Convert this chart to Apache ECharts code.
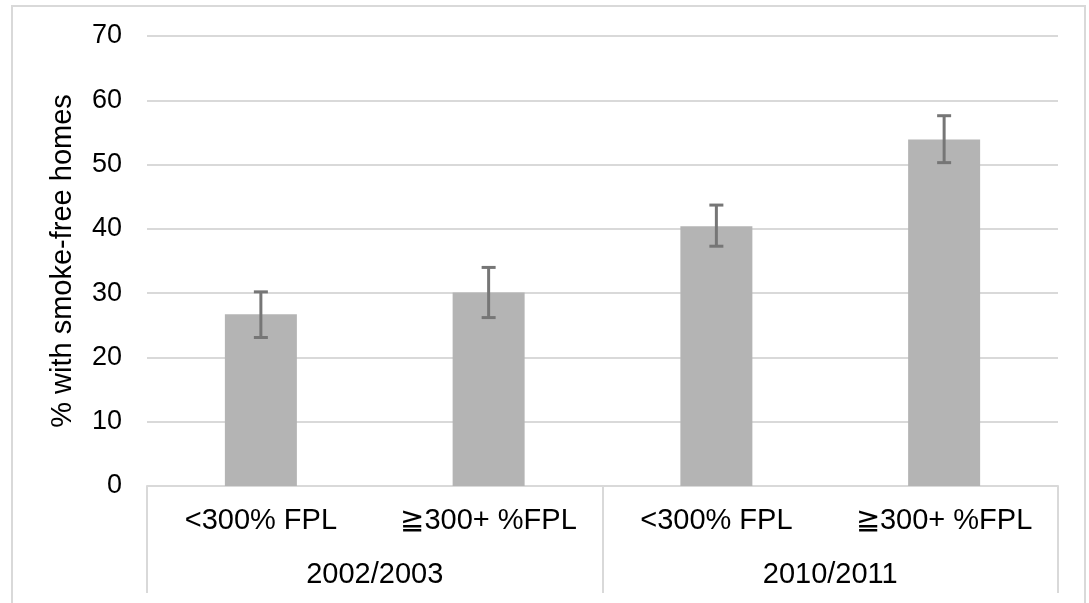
<!DOCTYPE html>
<html>
<head>
<meta charset="utf-8">
<script src="https://cdn.jsdelivr.net/npm/echarts@6/dist/echarts.min.js"></script>
<style>
html,body{margin:0;padding:0;background:#fff;}
#chart{width:1089px;height:603px;}
</style>
</head>
<body>
<div id="chart"></div>
<script>
const incomeLabels = ['<300% FPL', '\u2267300+ %FPL', '<300% FPL', '\u2267300+ %FPL'];
const yearLabels = ['2002/2003', '2010/2011'];
const values = [26.7, 30.1, 40.4, 53.9];
const errLow = [23.1, 26.2, 37.3, 50.3];
const errHigh = [30.2, 34.0, 43.7, 57.6];
const yTicks = [0, 10, 20, 30, 40, 50, 60, 70];

const chart = echarts.init(document.getElementById('chart'));
const font = 'Liberation Sans, Arial, sans-serif';
const fs = 29;
const errData = values.map((v, i) => [i, errLow[i], errHigh[i]]);

chart.setOption({
  animation: false,
  backgroundColor: '#fff',
  graphic: [{
    type: 'rect',
    shape: {x: 12, y: 6, width: 1073, height: 610},
    style: {fill: 'none', stroke: '#d9d9d9', lineWidth: 2},
    silent: true,
    z: -1
  }],
  grid: {left: 147, right: 31, top: 36, bottom: 117, containLabel: false},
  xAxis: [{
    type: 'category',
    data: incomeLabels,
    position: 'bottom',
    axisLine: {show: true, lineStyle: {color: '#d9d9d9', width: 2}},
    axisTick: {show: false},
    axisLabel: {color: '#000', fontSize: fs, fontFamily: font, margin: 20, interval: 0}
  }, {
    type: 'category',
    data: yearLabels,
    position: 'bottom',
    axisLine: {show: false},
    axisTick: {show: true, length: 107, lineStyle: {color: '#d9d9d9', width: 2}},
    axisLabel: {color: '#000', fontSize: fs, fontFamily: font, margin: 74, interval: 0}
  }],
  yAxis: {
    type: 'value',
    min: yTicks[0],
    max: yTicks[yTicks.length - 1],
    interval: 10,
    name: '% with smoke-free homes',
    nameLocation: 'middle',
    nameGap: 70,
    nameTextStyle: {color: '#000', fontSize: fs, fontFamily: font},
    axisLine: {show: false},
    axisTick: {show: false},
    axisLabel: {color: '#000', fontSize: 27, fontFamily: font, margin: 25},
    splitLine: {lineStyle: {color: '#d9d9d9', width: 2}}
  },
  series: [{
    type: 'bar',
    data: values,
    barWidth: 72,
    itemStyle: {color: '#b4b4b4'},
    xAxisIndex: 0,
    z: 2
  }, {
    type: 'custom',
    xAxisIndex: 0,
    data: errData,
    z: 3,
    renderItem: function (params, api) {
      const x = api.value(0);
      const lo = api.coord([x, api.value(1)]);
      const hi = api.coord([x, api.value(2)]);
      const hw = 7;
      const st = {stroke: '#767676', lineWidth: 3};
      return {
        type: 'group',
        children: [
          {type: 'line', shape: {x1: lo[0], y1: lo[1], x2: hi[0], y2: hi[1]}, style: st},
          {type: 'line', shape: {x1: lo[0] - hw, y1: lo[1], x2: lo[0] + hw, y2: lo[1]}, style: st},
          {type: 'line', shape: {x1: hi[0] - hw, y1: hi[1], x2: hi[0] + hw, y2: hi[1]}, style: st}
        ]
      };
    }
  }]
});
</script>
</body>
</html>
